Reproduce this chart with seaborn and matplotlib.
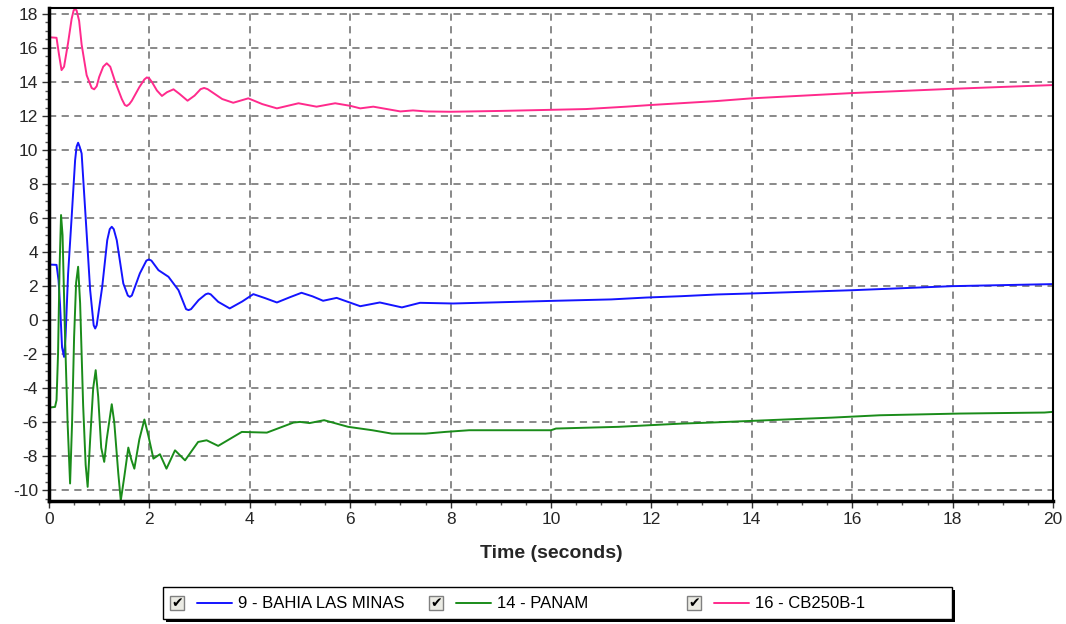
import numpy as np
import pandas as pd
import matplotlib
matplotlib.use("Agg")
import matplotlib.pyplot as plt
from matplotlib.patches import Rectangle
from matplotlib.ticker import MultipleLocator
import seaborn as sns

# valori (tempo in secondi, valore)
series_names = ["9 - BAHIA LAS MINAS", "14 - PANAM", "16 - CB250B-1"]
series_colors = ["#1414ff", "#1a8c1a", "#ff2a8c"]

t_blue = [0.0, 0.15, 0.19, 0.22, 0.26, 0.3, 0.33, 0.38, 0.45, 0.52, 0.55, 0.58, 0.61, 0.65,
          0.75, 0.82, 0.89, 0.92, 0.95, 1.06, 1.16, 1.21, 1.25, 1.29, 1.35, 1.48, 1.57, 1.61,
          1.65, 1.81, 1.94, 1.99, 2.04, 2.18, 2.38, 2.58, 2.73, 2.78, 2.83, 2.98, 3.12, 3.17,
          3.22, 3.37, 3.6, 3.85, 4.07, 4.3, 4.54, 4.8, 5.03, 5.25, 5.46, 5.73, 6.2, 6.59,
          7.03, 7.39, 8.05, 10.1, 11.2, 11.9, 12.6, 13.3, 14.0, 16.0, 18.0, 20.0]
v_blue = [3.27, 3.25, 2.35, 0.9, -1.6, -2.16, -0.95, 2.7, 6.0, 9.4, 10.2, 10.43, 10.2, 9.8,
          5.1, 1.76, -0.3, -0.49, -0.3, 1.96, 4.7, 5.35, 5.49, 5.35, 4.7, 2.16, 1.45, 1.37,
          1.45, 2.75, 3.5, 3.57, 3.5, 2.94, 2.55, 1.76, 0.65, 0.59, 0.65, 1.18, 1.52, 1.57,
          1.52, 1.08, 0.69, 1.1, 1.53, 1.3, 1.04, 1.35, 1.61, 1.4, 1.14, 1.31, 0.82, 1.04,
          0.75, 1.02, 0.98, 1.14, 1.22, 1.33, 1.41, 1.51, 1.57, 1.76, 2.0, 2.12]

t_green = [0.0, 0.12, 0.15, 0.18, 0.21, 0.24, 0.27, 0.32, 0.37, 0.42, 0.46, 0.5, 0.54, 0.58,
           0.62, 0.68, 0.73, 0.77, 0.82, 0.88, 0.93, 0.98, 1.04, 1.1, 1.15, 1.25, 1.3, 1.38,
           1.43, 1.5, 1.58, 1.64, 1.7, 1.8, 1.9, 1.98, 2.08, 2.21, 2.34, 2.51, 2.71, 2.97,
           3.14, 3.37, 3.84, 4.34, 4.87, 5.0, 5.19, 5.48, 5.96, 6.44, 6.83, 7.5, 7.89, 8.37,
           10.0, 10.1, 11.35, 11.93, 12.6, 13.18, 14.0, 14.82, 15.59, 16.55, 18.14, 19.83, 20.0]
v_green = [-5.14, -5.1, -4.7, -2.0, 3.0, 6.18, 5.0, -1.0, -6.0, -9.6, -6.0, -1.0, 2.2, 3.14,
           1.0, -5.0, -8.5, -9.8, -7.0, -4.0, -2.94, -4.5, -7.5, -8.33, -7.0, -4.94, -6.0, -9.0,
           -10.6, -9.2, -7.49, -8.2, -8.73, -7.0, -5.84, -6.8, -8.14, -7.88, -8.73, -7.65, -8.24, -7.16,
           -7.06, -7.39, -6.57, -6.61, -6.02, -5.98, -6.05, -5.88, -6.27, -6.47, -6.67, -6.67, -6.57, -6.47,
           -6.47, -6.37, -6.27, -6.18, -6.08, -6.02, -5.92, -5.82, -5.73, -5.59, -5.49, -5.43, -5.39]

t_pink = [0.0, 0.15, 0.2, 0.25, 0.3, 0.38, 0.45, 0.49, 0.52, 0.55, 0.6, 0.65, 0.75, 0.85, 0.9,
          0.95, 1.0, 1.08, 1.15, 1.22, 1.32, 1.45, 1.51, 1.55, 1.6, 1.65, 1.8, 1.9, 1.95, 2.0,
          2.05, 2.15, 2.25, 2.35, 2.48, 2.6, 2.76, 2.9, 3.02, 3.09, 3.16, 3.25, 3.45, 3.67,
          3.97, 4.25, 4.54, 4.97, 5.33, 5.7, 6.0, 6.2, 6.46, 7.0, 7.25, 7.52, 8.0, 9.0, 10.7,
          11.5, 12.0, 13.3, 14.0, 16.0, 18.0, 20.0]
v_pink = [16.63, 16.6, 15.6, 14.7, 14.9, 16.3, 17.7, 18.2, 18.3, 18.2, 17.6, 16.2, 14.4, 13.65, 13.57,
          13.75, 14.3, 14.9, 15.1, 14.9, 14.0, 13.0, 12.65, 12.59, 12.7, 12.9, 13.7, 14.15, 14.27, 14.2,
          14.0, 13.5, 13.18, 13.4, 13.57, 13.3, 12.9, 13.2, 13.58, 13.65, 13.58, 13.4, 13.0, 12.78,
          13.04, 12.7, 12.45, 12.75, 12.55, 12.75, 12.6, 12.45, 12.55, 12.27, 12.33, 12.27, 12.25, 12.3, 12.41,
          12.55, 12.65, 12.88, 13.04, 13.35, 13.6, 13.82]

x_ticks = [0, 2, 4, 6, 8, 10, 12, 14, 16, 18, 20]
y_ticks = [-10, -8, -6, -4, -2, 0, 2, 4, 6, 8, 10, 12, 14, 16, 18]


def main():
    df = pd.concat([
        pd.DataFrame({"t": t_blue, "v": v_blue, "serie": series_names[0]}),
        pd.DataFrame({"t": t_green, "v": v_green, "serie": series_names[1]}),
        pd.DataFrame({"t": t_pink, "v": v_pink, "serie": series_names[2]}),
    ], ignore_index=True)

    sns.set_style("white")
    plt.rcParams["font.family"] = ["Liberation Sans", "DejaVu Sans"]
    plt.rcParams["axes.unicode_minus"] = False

    fig = plt.figure(figsize=(10.66, 6.24), dpi=100)
    ax = fig.add_axes([49 / 1066, 1 - 501 / 624, 1004 / 1066, 493 / 624])

    palette = dict(zip(series_names, series_colors))
    sns.lineplot(data=df, x="t", y="v", hue="serie", palette=palette, estimator=None,
                 sort=False, linewidth=1.4, legend=False, ax=ax)

    ax.set_xlim(0, 20)
    ax.set_ylim(-10.63, 18.35)
    ax.set_xticks(x_ticks)
    ax.set_yticks(y_ticks)
    ax.xaxis.set_minor_locator(MultipleLocator(0.5))
    ax.yaxis.set_minor_locator(MultipleLocator(0.5))
    ax.tick_params(axis="both", which="major", direction="out", length=5, width=1,
                   labelsize=12.5, color="#333333", pad=3)
    ax.tick_params(axis="both", which="minor", direction="out", length=3, width=1, color="#555555")
    ax.tick_params(axis="x", which="both", bottom=True)
    ax.tick_params(axis="y", which="both", left=True)

    ax.grid(True, which="major", color="#808080", linestyle=(0, (4, 3)), linewidth=1.3)
    ax.set_axisbelow(True)
    for side in ["left", "bottom"]:
        ax.spines[side].set_color("black")
        ax.spines[side].set_linewidth(2.5)
    for side in ["top", "right"]:
        ax.spines[side].set_color("black")
        ax.spines[side].set_linewidth(1.5)

    ax.set_xlabel("Time (seconds)", fontsize=14, fontweight="bold", labelpad=13)
    ax.set_ylabel("")

    # legenda con le caselle di spunta, sotto al grafico
    lax = fig.add_axes([162 / 1066, 1 - 622 / 624, 796 / 1066, 36 / 624])
    lax.set_xlim(0, 796)
    lax.set_ylim(36, 0)
    lax.axis("off")
    lax.add_patch(Rectangle((4, 4), 789, 32, facecolor="black", edgecolor="none", clip_on=False))
    lax.add_patch(Rectangle((1, 1), 789, 32, facecolor="white", edgecolor="black", linewidth=1, clip_on=False))

    entry_x = [8, 267, 525]
    for x0, name, col in zip(entry_x, series_names, series_colors):
        lax.add_patch(Rectangle((x0, 10), 14, 14, facecolor="#ebebe4", edgecolor="#808080", linewidth=1))
        lax.text(x0 + 7, 17, "\u2714", fontsize=10, ha="center", va="center", color="black",
                 family=["DejaVu Sans"])
        lax.plot([x0 + 27, x0 + 62], [17, 17], color=col, linewidth=1.4)
        lax.text(x0 + 68, 17.5, name, fontsize=12, ha="left", va="center", color="black")

    fig.savefig("out.png", dpi=100)


if __name__ == '__main__':
    main()
